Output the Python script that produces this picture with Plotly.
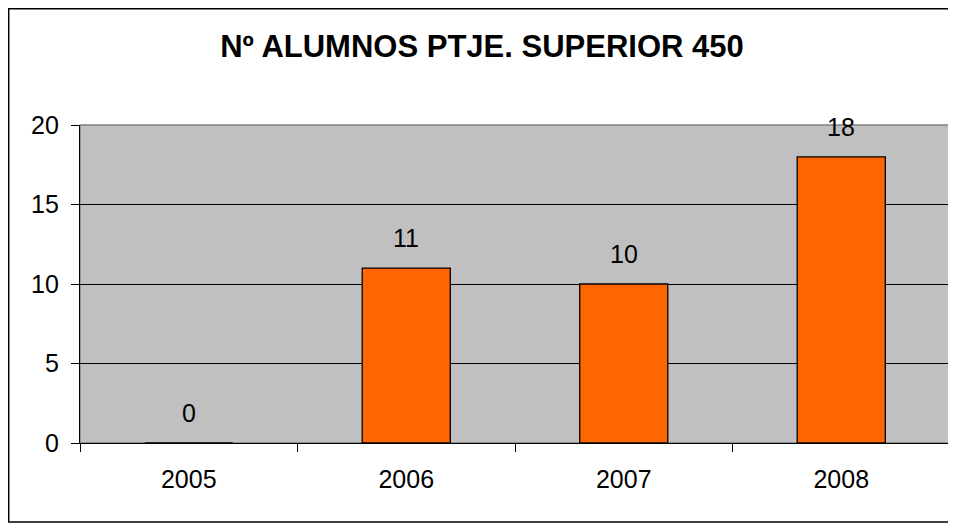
import plotly.graph_objects as go

years = ['2005', '2006', '2007', '2008']
alumnos = [0, 11, 10, 18]

# the page body adds an 8px margin, so the figure is 8px smaller than the window
W, H = 948, 515
L, R, T, B = 72, 6, 117, 80

fig = go.Figure()
fig.add_trace(go.Bar(
    x=years, y=alumnos,
    marker=dict(color='#FF6600', line=dict(color='black', width=1.3)),
    width=0.405,
    hoverinfo='x+y',
))

# data labels above the bars (x by category index: the year names look numeric)
for i, v in enumerate(alumnos):
    fig.add_annotation(x=i, y=v, text=str(v), showarrow=False,
                       yanchor='bottom', yshift=14,
                       font=dict(family='Arial, Liberation Sans', size=25, color='black'))

pw, ph = W - L - R, H - T - B
def px_x(p): return (p - L) / pw
def px_y(p): return (H - B - p) / ph

# outer chart frame (right side runs off the window, as in the original)
fig.add_shape(type='rect', xref='paper', yref='paper',
              x0=px_x(0.7), x1=px_x(W + 5), y0=px_y(514), y1=px_y(0.7),
              line=dict(color='black', width=1.5), fillcolor='rgba(0,0,0,0)', layer='below')
# plot area border
fig.add_shape(type='rect', xref='paper', yref='paper', x0=0, x1=1, y0=0, y1=1,
              line=dict(color='#808080', width=1.3), fillcolor='#C0C0C0', layer='below')

fig.update_layout(
    width=W, height=H,
    margin=dict(l=L, r=R, t=T, b=B),
    paper_bgcolor='white', plot_bgcolor='#C0C0C0',
    font=dict(family='Arial, Liberation Sans', size=25, color='black'),
    title=dict(text='<b>Nº ALUMNOS PTJE. SUPERIOR 450</b>', x=0.5, xref='container',
               xanchor='center', y=1 - 38 / H, yanchor='middle',
               font=dict(size=31, color='black')),
    showlegend=False,
    bargap=0.595,
)
fig.update_xaxes(type='category', range=[-0.5, len(years) - 0.5],
                 showline=True, linecolor='black', linewidth=1.3,
                 ticks='outside', tickson='boundaries', ticklen=8, tickcolor='black',
                 showgrid=False, tickfont=dict(size=25), tickangle=0,
                 ticklabelstandoff=14)
fig.update_yaxes(range=[0, 20], dtick=5, showline=True, linecolor='black', linewidth=1.3,
                 ticks='outside', ticklen=8, tickcolor='black',
                 showgrid=True, gridcolor='black', gridwidth=1, zeroline=False,
                 tickfont=dict(size=25), ticklabelstandoff=7)

fig.write_html('out.html')
